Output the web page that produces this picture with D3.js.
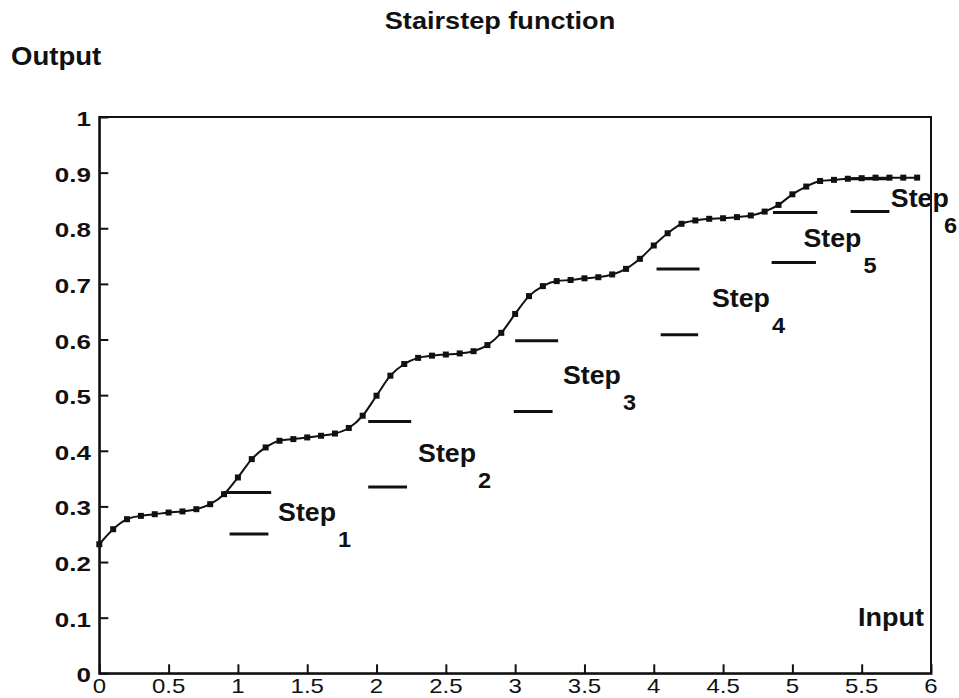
<!DOCTYPE html>
<html>
<head>
<meta charset="utf-8">
<script src="https://cdn.jsdelivr.net/npm/d3@7"></script>
<style>
  html, body { margin: 0; padding: 0; background: #fff; }
  svg { display: block; }
  text { font-family: "Liberation Sans", Arial, Helvetica, sans-serif; fill: #111; }
</style>
</head>
<body>
<svg id="chart" width="959" height="698"></svg>
<script>
// ---- data ----
const inputValues = [0,0.1,0.2,0.3,0.4,0.5,0.6,0.7,0.8,0.9,
  1,1.1,1.2,1.3,1.4,1.5,1.6,1.7,1.8,1.9,
  2,2.1,2.2,2.3,2.4,2.5,2.6,2.7,2.8,2.9,
  3,3.1,3.2,3.3,3.4,3.5,3.6,3.7,3.8,3.9,
  4,4.1,4.2,4.3,4.4,4.5,4.6,4.7,4.8,4.9,
  5,5.1,5.2,5.3,5.4,5.5,5.6,5.7,5.8,5.9];
const outputValues = [0.232,0.259,0.277,0.283,0.286,0.289,0.291,0.295,0.304,0.322,
  0.352,0.385,0.406,0.418,0.421,0.424,0.427,0.431,0.441,0.463,
  0.499,0.535,0.556,0.567,0.571,0.573,0.575,0.579,0.590,0.612,
  0.646,0.678,0.696,0.705,0.707,0.710,0.712,0.717,0.727,0.745,
  0.769,0.791,0.808,0.814,0.817,0.818,0.820,0.823,0.830,0.842,
  0.861,0.875,0.885,0.887,0.889,0.890,0.891,0.891,0.891,0.891];

const stepNames = ["1","2","3","4","5","6"];
const stepUpper = [0.325,0.4525,0.598,0.7266,0.8285,0.889];
const stepUpperStart = [0.90,1.94,3.00,4.02,4.86,5.42];
const stepUpperEnd = [1.24,2.25,3.31,4.33,5.18,5.70];
const stepLower = [0.2505,0.335,0.4705,0.6085,0.7385,0.83];
const stepLowerStart = [0.94,1.94,2.99,4.05,4.85,5.42];
const stepLowerEnd = [1.22,2.22,3.27,4.32,5.17,5.70];
const stepLabelX = [1.29,2.30,3.345,4.42,5.08,5.71];
const stepLabelY = [0.2745,0.379,0.520,0.659,0.766,0.839];

const xTicks = [0,0.5,1,1.5,2,2.5,3,3.5,4,4.5,5,5.5,6];
const xTickLabels = ["0","0.5","1","1.5","2","2.5","3","3.5","4","4.5","5","5.5","6"];
const yTicks = [0,0.1,0.2,0.3,0.4,0.5,0.6,0.7,0.8,0.9,1];
const yTickLabels = ["0","0.1","0.2","0.3","0.4","0.5","0.6","0.7","0.8","0.9","1"];

// ---- layout ----
const svg = d3.select("#chart");
const x = d3.scaleLinear().domain([0, 6]).range([99.3, 931]);
const y = d3.scaleLinear().domain([0, 1]).range([673.3, 117]);
const ink = "#111";

function txt(px, py, str, size, weight, sx, anchor) {
  return svg.append("text")
    .attr("transform", `translate(${px},${py}) scale(${sx},1)`)
    .attr("text-anchor", anchor || "start")
    .attr("font-size", size)
    .attr("font-weight", weight)
    .text(str);
}

// frame
svg.append("rect")
  .attr("x", x(0)).attr("y", y(1))
  .attr("width", x(6) - x(0)).attr("height", y(0) - y(1))
  .attr("fill", "none").attr("stroke", ink).attr("stroke-width", 2);

// axes via d3 (inward ticks)
const xAxis = d3.axisBottom(x).tickValues(xTicks).tickSize(-9).tickFormat("");
const yAxis = d3.axisLeft(y).tickValues(yTicks).tickSize(-9).tickFormat("");
const gx = svg.append("g").attr("transform", `translate(0,${y(0)})`).call(xAxis);
const gy = svg.append("g").attr("transform", `translate(${x(0)},0)`).call(yAxis);
[gx, gy].forEach(g => {
  g.select(".domain").attr("stroke", ink).attr("stroke-width", 2);
  g.selectAll(".tick line").attr("stroke", ink).attr("stroke-width", 2);
});
gx.selectAll(".tick").filter(d => d === 0 || d === 6).select("line").remove();
gy.selectAll(".tick").filter(d => d === 0 || d === 1).select("line").remove();

// tick labels
xTicks.forEach((t, i) => txt(x(t), 693, xTickLabels[i], 20, "normal", 1.2, "middle"));
yTicks.forEach((t, i) => txt(91, y(t) + 9, yTickLabels[i], 20, "bold", 1.3, "end"));

// titles
txt(500, 29, "Stairstep function", 24, "bold", 1.13, "middle");
txt(11, 65, "Output", 26, "bold", 1.06, "start");
txt(924, 626, "Input", 25, "bold", 1.08, "end");

// step segments
stepNames.forEach((s, i) => {
  svg.append("line")
    .attr("x1", x(stepLowerStart[i])).attr("x2", x(stepLowerEnd[i]))
    .attr("y1", y(stepLower[i])).attr("y2", y(stepLower[i]))
    .attr("stroke", ink).attr("stroke-width", 3);
  svg.append("line")
    .attr("x1", x(stepUpperStart[i])).attr("x2", x(stepUpperEnd[i]))
    .attr("y1", y(stepUpper[i])).attr("y2", y(stepUpper[i]))
    .attr("stroke", ink).attr("stroke-width", 3);
});

// curve
const pts = inputValues.map((v, i) => [v, outputValues[i]]);
svg.append("path")
  .datum(pts)
  .attr("fill", "none").attr("stroke", ink).attr("stroke-width", 2)
  .attr("d", d3.line().x(d => x(d[0])).y(d => y(d[1])).curve(d3.curveMonotoneX));
svg.append("g").selectAll("rect").data(pts).join("rect")
  .attr("x", d => x(d[0]) - 3).attr("y", d => y(d[1]) - 3)
  .attr("width", 6).attr("height", 6).attr("fill", ink);

// step labels
stepNames.forEach((s, i) => {
  const lx = x(stepLabelX[i]), ly = y(stepLabelY[i]);
  const t = txt(lx, ly, "Step", 25, "bold", 1.07, "start");
  const w = t.node().getComputedTextLength() * 1.07;
  txt(Math.min(lx + w + 2, 944), ly + 26, s, 22, "bold", 1.07, "start");
});
</script>
</body>
</html>
